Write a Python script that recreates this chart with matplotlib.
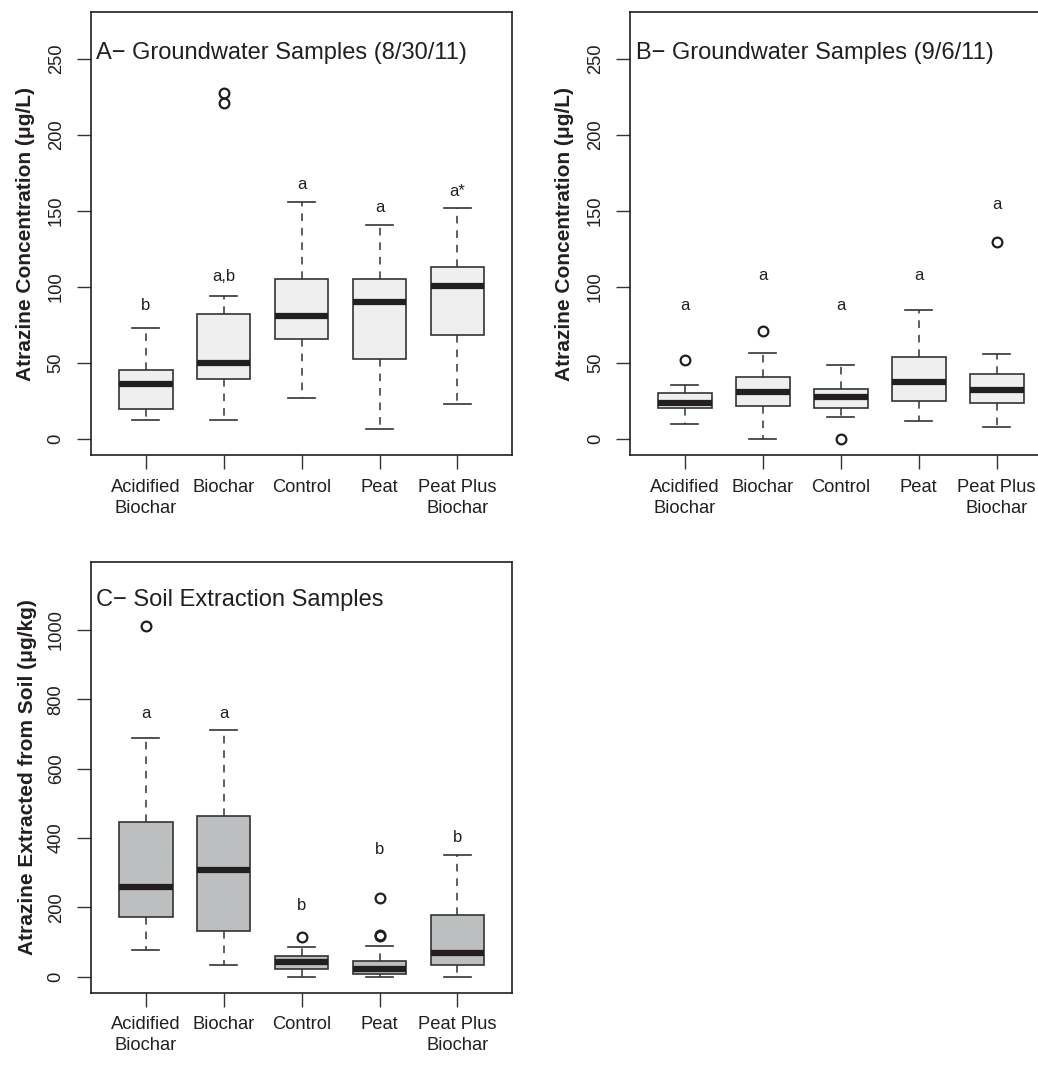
import numpy as np
import matplotlib
matplotlib.use("Agg")
import matplotlib.pyplot as plt

plt.rcParams['font.family'] = ['Liberation Sans', 'DejaVu Sans']

groups = ["Acidified\nBiochar", "Biochar", "Control", "Peat", "Peat Plus\nBiochar"]

# panel A - groundwater 8/30/11 : low whisker, Q1, median, Q3, high whisker
a_low = [12.5, 12.3, 26.6, 6.6, 22.9]
a_q1 = [19.6, 39.5, 66.0, 52.3, 68.5]
a_med = [36.0, 50.0, 80.6, 90.0, 100.6]
a_q3 = [45.0, 82.0, 105.4, 105.4, 113.3]
a_high = [73.0, 94.0, 155.8, 140.6, 152.2]
a_out = [[], [221, 228], [], [], []]
a_letters = ["b", "a,b", "a", "a", "a*"]
a_letter_y = [87.6, 107.0, 167.6, 152.5, 162.8]

# panel B - groundwater 9/6/11
b_low = [9.9, 0.0, 14.5, 11.9, 7.7]
b_q1 = [20.0, 21.5, 20.4, 24.8, 23.3]
b_med = [23.3, 30.7, 27.2, 37.6, 32.1]
b_q3 = [30.3, 40.4, 32.5, 53.8, 42.6]
b_high = [35.6, 56.4, 48.5, 84.8, 56.0]
b_out = [[51.8], [71.2], [0.0], [], [129.8]]
b_letters = ["a", "a", "a", "a", "a"]
b_letter_y = [87.6, 107.6, 87.6, 107.6, 154.4]

# panel C - soil extraction
c_low = [77.9, 32.7, 0.0, 0.0, 0.0]
c_q1 = [172.0, 131.7, 23.0, 7.7, 34.6]
c_med = [258.7, 306.7, 42.3, 23.0, 68.3]
c_q3 = [447.0, 462.5, 59.6, 45.0, 178.0]
c_high = [687.5, 712.5, 85.6, 88.5, 350.0]
c_out = [[1012.5], [], [115.4], [117, 120, 226], []]
c_letters = ["a", "a", "b", "b", "b"]
c_letter_y = [758.6, 758.6, 206.7, 368.0, 402.0]

ink = "#231f20"


def panel(ax, low, q1, med, q3, high, out, letters, letter_y, fill, ylim, yticks, ylabel, title, title_y):
    stats = []
    for i in range(len(groups)):
        stats.append(dict(whislo=low[i], q1=q1[i], med=med[i], q3=q3[i],
                          whishi=high[i], fliers=np.array(out[i])))
    pos = np.arange(1, len(groups) + 1)
    ax.bxp(stats, positions=pos, widths=0.69, capwidths=0.35, patch_artist=True,
           boxprops=dict(facecolor=fill, edgecolor="#333333", linewidth=1.2),
           medianprops=dict(color=ink, linewidth=4.5, solid_capstyle="butt"),
           whiskerprops=dict(color="#333333", linewidth=1.1, linestyle=(0, (5, 4.5))),
           capprops=dict(color="#333333", linewidth=1.2),
           flierprops=dict(marker="o", markersize=7, markerfacecolor="none",
                           markeredgecolor=ink, markeredgewidth=1.6))
    for i in range(len(groups)):
        ax.text(pos[i], letter_y[i], letters[i], ha="center", va="center",
                fontsize=12, color=ink)
    ax.text(0.37, title_y, title, ha="left", va="center", fontsize=17, color=ink)
    ax.set_xlim(0.3, 5.7)
    ax.set_ylim(*ylim)
    ax.set_xticks(pos)
    ax.set_xticklabels(groups, linespacing=1.3)
    ax.set_yticks(yticks)
    ax.tick_params(axis="both", direction="out", length=10, width=1, color="#333333",
                   labelsize=13.2, labelcolor=ink, pad=7)
    ax.tick_params(axis="y", pad=9)
    for lab in ax.get_yticklabels():
        lab.set_rotation(90)
        lab.set_va("center")
    for s in ax.spines.values():
        s.set_linewidth(1.2)
        s.set_color(ink)
    ax.set_ylabel(ylabel, fontsize=15, fontweight="bold", color=ink)


fig = plt.figure(figsize=(10.38, 10.74), dpi=100)
axA = fig.add_axes([0.0877, 0.5763, 0.4056, 0.4125])
axB = fig.add_axes([0.6072, 0.5763, 0.4056, 0.4125])
axC = fig.add_axes([0.0877, 0.0757, 0.4056, 0.4013])

panel(axA, a_low, a_q1, a_med, a_q3, a_high, a_out, a_letters, a_letter_y, "#efefef",
      (-10.7, 281), [0, 50, 100, 150, 200, 250], "Atrazine Concentration (\u03bcg/L)",
      "A\u2212 Groundwater Samples (8/30/11)", 254)
panel(axB, b_low, b_q1, b_med, b_q3, b_high, b_out, b_letters, b_letter_y, "#efefef",
      (-10.7, 281), [0, 50, 100, 150, 200, 250], "Atrazine Concentration (\u03bcg/L)",
      "B\u2212 Groundwater Samples (9/6/11)", 254)
panel(axC, c_low, c_q1, c_med, c_q3, c_high, c_out, c_letters, c_letter_y, "#bcbec0",
      (-46, 1197), [0, 200, 400, 600, 800, 1000], "Atrazine Extracted from Soil (\u03bcg/kg)",
      "C\u2212 Soil Extraction Samples", 1086)

axA.yaxis.set_label_coords(-0.133, 0.5)
axB.yaxis.set_label_coords(-0.133, 0.5)
axC.yaxis.set_label_coords(-0.128, 0.5)

fig.savefig("out.png", dpi=100)
